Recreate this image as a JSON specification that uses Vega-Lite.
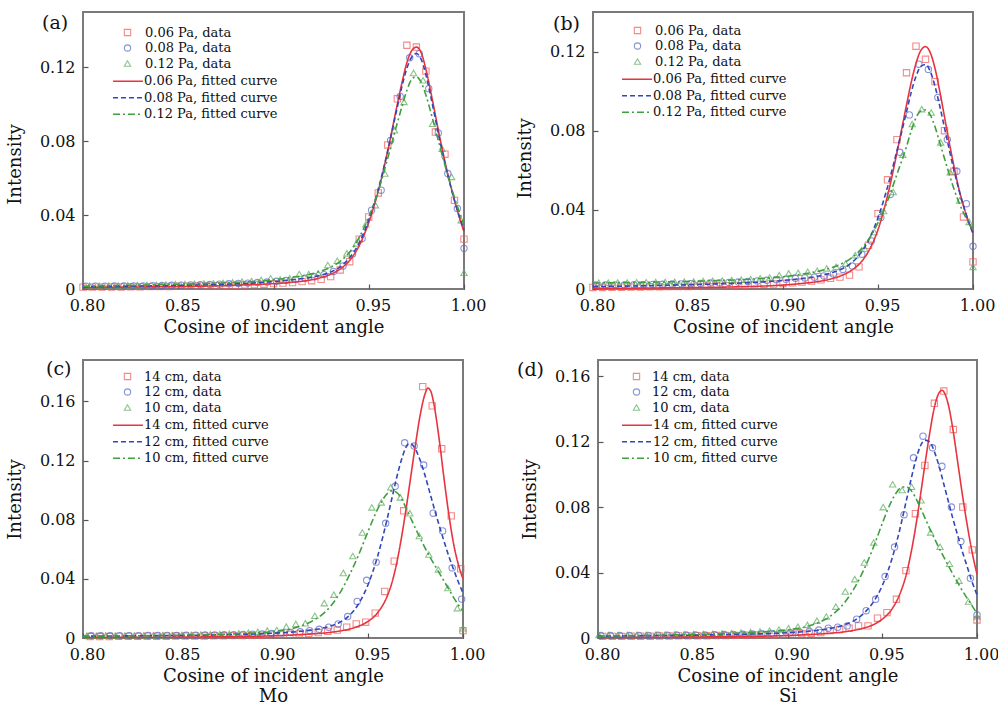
{
"$schema":"https://vega.github.io/schema/vega-lite/v6.json",
"background":"white",
"padding":{"left":5,"top":11,"right":5,"bottom":0},
"config":{
 "font":"DejaVu Serif",
 "view":{"stroke":"#7a7a7a","strokeWidth":2},
 "axis":{"grid":false,"domain":false,"tickSize":-5,"tickColor":"#555","tickWidth":1.2,"labelFont":"DejaVu Serif","labelFontSize":16,"labelColor":"#111","labelFlush":false,"labelOverlap":false,"titleFont":"DejaVu Serif","titleFontSize":18,"titleFontWeight":"normal","titleColor":"#111","titleLineHeight":20},
 "axisX":{"labelPadding":13,"titlePadding":5,"labelOffset":4},
 "axisY":{"labelPadding":13,"titlePadding":15},
 "legend":{"labelFont":"DejaVu Serif","labelFontSize":13,"labelColor":"#111","padding":0,"rowPadding":1.5,"labelLimit":400,"layout":{"top-left":{"direction":"vertical","margin":3}}},
 "title":{"font":"DejaVu Serif","fontSize":19,"fontWeight":"normal","anchor":"start","frame":"group","color":"#111"}
},
"datasets":{
"pts":[
{"p":"a","s":"r","x":0.800,"y":0.0010},{"p":"a","s":"r","x":0.805,"y":0.0010},{"p":"a","s":"r","x":0.810,"y":0.0010},{"p":"a","s":"r","x":0.815,"y":0.0011},{"p":"a","s":"r","x":0.820,"y":0.0011},{"p":"a","s":"r","x":0.825,"y":0.0012},{"p":"a","s":"r","x":0.830,"y":0.0012},{"p":"a","s":"r","x":0.835,"y":0.0013},{"p":"a","s":"r","x":0.840,"y":0.0013},{"p":"a","s":"r","x":0.845,"y":0.0014},{"p":"a","s":"r","x":0.850,"y":0.0015},{"p":"a","s":"r","x":0.855,"y":0.0015},{"p":"a","s":"r","x":0.860,"y":0.0016},{"p":"a","s":"r","x":0.865,"y":0.0017},{"p":"a","s":"r","x":0.870,"y":0.0018},{"p":"a","s":"r","x":0.875,"y":0.0019},{"p":"a","s":"r","x":0.880,"y":0.0020},{"p":"a","s":"r","x":0.885,"y":0.0022},{"p":"a","s":"r","x":0.890,"y":0.0024},{"p":"a","s":"r","x":0.895,"y":0.0026},{"p":"a","s":"r","x":0.900,"y":0.0029},{"p":"a","s":"r","x":0.905,"y":0.0032},{"p":"a","s":"r","x":0.910,"y":0.0035},{"p":"a","s":"r","x":0.915,"y":0.0040},{"p":"a","s":"r","x":0.920,"y":0.0045},{"p":"a","s":"r","x":0.925,"y":0.0052},{"p":"a","s":"r","x":0.930,"y":0.0067},{"p":"a","s":"r","x":0.935,"y":0.0103},{"p":"a","s":"r","x":0.940,"y":0.0148},{"p":"a","s":"r","x":0.945,"y":0.0270},{"p":"a","s":"r","x":0.950,"y":0.0390},{"p":"a","s":"r","x":0.955,"y":0.0520},{"p":"a","s":"r","x":0.960,"y":0.0780},{"p":"a","s":"r","x":0.965,"y":0.1030},{"p":"a","s":"r","x":0.970,"y":0.1320},{"p":"a","s":"r","x":0.975,"y":0.1310},{"p":"a","s":"r","x":0.980,"y":0.1180},{"p":"a","s":"r","x":0.985,"y":0.0850},{"p":"a","s":"r","x":0.990,"y":0.0730},{"p":"a","s":"r","x":0.995,"y":0.0480},{"p":"a","s":"r","x":1.000,"y":0.0270},
{"p":"a","s":"b","x":0.8015,"y":0.0015},{"p":"a","s":"b","x":0.8065,"y":0.0015},{"p":"a","s":"b","x":0.8115,"y":0.0015},{"p":"a","s":"b","x":0.8165,"y":0.0016},{"p":"a","s":"b","x":0.8215,"y":0.0016},{"p":"a","s":"b","x":0.8265,"y":0.0017},{"p":"a","s":"b","x":0.8315,"y":0.0017},{"p":"a","s":"b","x":0.8365,"y":0.0018},{"p":"a","s":"b","x":0.8415,"y":0.0019},{"p":"a","s":"b","x":0.8465,"y":0.0020},{"p":"a","s":"b","x":0.8515,"y":0.0021},{"p":"a","s":"b","x":0.8565,"y":0.0022},{"p":"a","s":"b","x":0.8615,"y":0.0023},{"p":"a","s":"b","x":0.8665,"y":0.0024},{"p":"a","s":"b","x":0.8715,"y":0.0026},{"p":"a","s":"b","x":0.8765,"y":0.0028},{"p":"a","s":"b","x":0.8815,"y":0.0030},{"p":"a","s":"b","x":0.8865,"y":0.0032},{"p":"a","s":"b","x":0.8915,"y":0.0035},{"p":"a","s":"b","x":0.8965,"y":0.0038},{"p":"a","s":"b","x":0.9015,"y":0.0042},{"p":"a","s":"b","x":0.9065,"y":0.0046},{"p":"a","s":"b","x":0.9115,"y":0.0052},{"p":"a","s":"b","x":0.9165,"y":0.0058},{"p":"a","s":"b","x":0.9215,"y":0.0066},{"p":"a","s":"b","x":0.9265,"y":0.0078},{"p":"a","s":"b","x":0.9315,"y":0.0095},{"p":"a","s":"b","x":0.9365,"y":0.0125},{"p":"a","s":"b","x":0.9415,"y":0.0190},{"p":"a","s":"b","x":0.9465,"y":0.0274},{"p":"a","s":"b","x":0.9515,"y":0.0427},{"p":"a","s":"b","x":0.9565,"y":0.0535},{"p":"a","s":"b","x":0.9615,"y":0.0805},{"p":"a","s":"b","x":0.9665,"y":0.1043},{"p":"a","s":"b","x":0.9715,"y":0.1252},{"p":"a","s":"b","x":0.9765,"y":0.1274},{"p":"a","s":"b","x":0.9815,"y":0.1085},{"p":"a","s":"b","x":0.9865,"y":0.0845},{"p":"a","s":"b","x":0.9915,"y":0.0625},{"p":"a","s":"b","x":0.9965,"y":0.0436},{"p":"a","s":"b","x":1.000,"y":0.0220},
{"p":"a","s":"g","x":0.8035,"y":0.0018},{"p":"a","s":"g","x":0.8085,"y":0.0018},{"p":"a","s":"g","x":0.8135,"y":0.0019},{"p":"a","s":"g","x":0.8185,"y":0.0019},{"p":"a","s":"g","x":0.8235,"y":0.0020},{"p":"a","s":"g","x":0.8285,"y":0.0021},{"p":"a","s":"g","x":0.8335,"y":0.0022},{"p":"a","s":"g","x":0.8385,"y":0.0023},{"p":"a","s":"g","x":0.8435,"y":0.0024},{"p":"a","s":"g","x":0.8485,"y":0.0026},{"p":"a","s":"g","x":0.8535,"y":0.0027},{"p":"a","s":"g","x":0.8585,"y":0.0028},{"p":"a","s":"g","x":0.8635,"y":0.0030},{"p":"a","s":"g","x":0.8685,"y":0.0031},{"p":"a","s":"g","x":0.8735,"y":0.0033},{"p":"a","s":"g","x":0.8785,"y":0.0036},{"p":"a","s":"g","x":0.8835,"y":0.0040},{"p":"a","s":"g","x":0.8885,"y":0.0043},{"p":"a","s":"g","x":0.8935,"y":0.0049},{"p":"a","s":"g","x":0.8985,"y":0.0058},{"p":"a","s":"g","x":0.9035,"y":0.0052},{"p":"a","s":"g","x":0.9085,"y":0.0058},{"p":"a","s":"g","x":0.9135,"y":0.0081},{"p":"a","s":"g","x":0.9185,"y":0.0081},{"p":"a","s":"g","x":0.9235,"y":0.0085},{"p":"a","s":"g","x":0.9285,"y":0.0130},{"p":"a","s":"g","x":0.9335,"y":0.0153},{"p":"a","s":"g","x":0.9385,"y":0.0193},{"p":"a","s":"g","x":0.9435,"y":0.0247},{"p":"a","s":"g","x":0.9485,"y":0.0351},{"p":"a","s":"g","x":0.9535,"y":0.0454},{"p":"a","s":"g","x":0.9585,"y":0.0625},{"p":"a","s":"g","x":0.9635,"y":0.0860},{"p":"a","s":"g","x":0.9685,"y":0.1013},{"p":"a","s":"g","x":0.9735,"y":0.1170},{"p":"a","s":"g","x":0.9785,"y":0.1130},{"p":"a","s":"g","x":0.9835,"y":0.0895},{"p":"a","s":"g","x":0.9885,"y":0.0760},{"p":"a","s":"g","x":0.9935,"y":0.0607},{"p":"a","s":"g","x":0.9985,"y":0.0373},{"p":"a","s":"g","x":1.000,"y":0.0088},
{"p":"b","s":"r","x":0.800,"y":0.0008},{"p":"b","s":"r","x":0.805,"y":0.0008},{"p":"b","s":"r","x":0.810,"y":0.0009},{"p":"b","s":"r","x":0.815,"y":0.0009},{"p":"b","s":"r","x":0.820,"y":0.0010},{"p":"b","s":"r","x":0.825,"y":0.0010},{"p":"b","s":"r","x":0.830,"y":0.0011},{"p":"b","s":"r","x":0.835,"y":0.0011},{"p":"b","s":"r","x":0.840,"y":0.0012},{"p":"b","s":"r","x":0.845,"y":0.0013},{"p":"b","s":"r","x":0.850,"y":0.0013},{"p":"b","s":"r","x":0.855,"y":0.0014},{"p":"b","s":"r","x":0.860,"y":0.0015},{"p":"b","s":"r","x":0.865,"y":0.0016},{"p":"b","s":"r","x":0.870,"y":0.0017},{"p":"b","s":"r","x":0.875,"y":0.0018},{"p":"b","s":"r","x":0.880,"y":0.0019},{"p":"b","s":"r","x":0.885,"y":0.0021},{"p":"b","s":"r","x":0.890,"y":0.0023},{"p":"b","s":"r","x":0.895,"y":0.0025},{"p":"b","s":"r","x":0.900,"y":0.0028},{"p":"b","s":"r","x":0.905,"y":0.0031},{"p":"b","s":"r","x":0.910,"y":0.0035},{"p":"b","s":"r","x":0.915,"y":0.0040},{"p":"b","s":"r","x":0.920,"y":0.0046},{"p":"b","s":"r","x":0.925,"y":0.0054},{"p":"b","s":"r","x":0.930,"y":0.0060},{"p":"b","s":"r","x":0.935,"y":0.0070},{"p":"b","s":"r","x":0.940,"y":0.0112},{"p":"b","s":"r","x":0.945,"y":0.0221},{"p":"b","s":"r","x":0.950,"y":0.0381},{"p":"b","s":"r","x":0.955,"y":0.0552},{"p":"b","s":"r","x":0.960,"y":0.0755},{"p":"b","s":"r","x":0.965,"y":0.1093},{"p":"b","s":"r","x":0.970,"y":0.1227},{"p":"b","s":"r","x":0.975,"y":0.1161},{"p":"b","s":"r","x":0.980,"y":0.1048},{"p":"b","s":"r","x":0.985,"y":0.0800},{"p":"b","s":"r","x":0.990,"y":0.0595},{"p":"b","s":"r","x":0.995,"y":0.0364},{"p":"b","s":"r","x":1.000,"y":0.0137},
{"p":"b","s":"b","x":0.8015,"y":0.0020},{"p":"b","s":"b","x":0.8065,"y":0.0020},{"p":"b","s":"b","x":0.8115,"y":0.0021},{"p":"b","s":"b","x":0.8165,"y":0.0021},{"p":"b","s":"b","x":0.8215,"y":0.0022},{"p":"b","s":"b","x":0.8265,"y":0.0022},{"p":"b","s":"b","x":0.8315,"y":0.0023},{"p":"b","s":"b","x":0.8365,"y":0.0024},{"p":"b","s":"b","x":0.8415,"y":0.0025},{"p":"b","s":"b","x":0.8465,"y":0.0026},{"p":"b","s":"b","x":0.8515,"y":0.0027},{"p":"b","s":"b","x":0.8565,"y":0.0028},{"p":"b","s":"b","x":0.8615,"y":0.0030},{"p":"b","s":"b","x":0.8665,"y":0.0031},{"p":"b","s":"b","x":0.8715,"y":0.0033},{"p":"b","s":"b","x":0.8765,"y":0.0035},{"p":"b","s":"b","x":0.8815,"y":0.0038},{"p":"b","s":"b","x":0.8865,"y":0.0041},{"p":"b","s":"b","x":0.8915,"y":0.0044},{"p":"b","s":"b","x":0.8965,"y":0.0047},{"p":"b","s":"b","x":0.9015,"y":0.0049},{"p":"b","s":"b","x":0.9065,"y":0.0054},{"p":"b","s":"b","x":0.9115,"y":0.0056},{"p":"b","s":"b","x":0.9165,"y":0.0060},{"p":"b","s":"b","x":0.9215,"y":0.0066},{"p":"b","s":"b","x":0.9265,"y":0.0076},{"p":"b","s":"b","x":0.9315,"y":0.0099},{"p":"b","s":"b","x":0.9365,"y":0.0116},{"p":"b","s":"b","x":0.9415,"y":0.0176},{"p":"b","s":"b","x":0.9465,"y":0.0243},{"p":"b","s":"b","x":0.9515,"y":0.0361},{"p":"b","s":"b","x":0.9565,"y":0.0478},{"p":"b","s":"b","x":0.9615,"y":0.0691},{"p":"b","s":"b","x":0.9665,"y":0.0880},{"p":"b","s":"b","x":0.9715,"y":0.1136},{"p":"b","s":"b","x":0.9765,"y":0.1110},{"p":"b","s":"b","x":0.9815,"y":0.0968},{"p":"b","s":"b","x":0.9865,"y":0.0755},{"p":"b","s":"b","x":0.9915,"y":0.0595},{"p":"b","s":"b","x":0.9965,"y":0.0431},{"p":"b","s":"b","x":1.000,"y":0.0216},
{"p":"b","s":"g","x":0.803,"y":0.0032},{"p":"b","s":"g","x":0.808,"y":0.0032},{"p":"b","s":"g","x":0.813,"y":0.0033},{"p":"b","s":"g","x":0.818,"y":0.0033},{"p":"b","s":"g","x":0.823,"y":0.0034},{"p":"b","s":"g","x":0.828,"y":0.0034},{"p":"b","s":"g","x":0.833,"y":0.0035},{"p":"b","s":"g","x":0.838,"y":0.0035},{"p":"b","s":"g","x":0.843,"y":0.0036},{"p":"b","s":"g","x":0.848,"y":0.0037},{"p":"b","s":"g","x":0.853,"y":0.0038},{"p":"b","s":"g","x":0.858,"y":0.0040},{"p":"b","s":"g","x":0.863,"y":0.0041},{"p":"b","s":"g","x":0.868,"y":0.0043},{"p":"b","s":"g","x":0.873,"y":0.0045},{"p":"b","s":"g","x":0.878,"y":0.0047},{"p":"b","s":"g","x":0.883,"y":0.0050},{"p":"b","s":"g","x":0.888,"y":0.0054},{"p":"b","s":"g","x":0.893,"y":0.0058},{"p":"b","s":"g","x":0.898,"y":0.0070},{"p":"b","s":"g","x":0.903,"y":0.0079},{"p":"b","s":"g","x":0.908,"y":0.0082},{"p":"b","s":"g","x":0.913,"y":0.0087},{"p":"b","s":"g","x":0.918,"y":0.0092},{"p":"b","s":"g","x":0.923,"y":0.0104},{"p":"b","s":"g","x":0.928,"y":0.0112},{"p":"b","s":"g","x":0.933,"y":0.0129},{"p":"b","s":"g","x":0.938,"y":0.0171},{"p":"b","s":"g","x":0.943,"y":0.0205},{"p":"b","s":"g","x":0.948,"y":0.0288},{"p":"b","s":"g","x":0.953,"y":0.0394},{"p":"b","s":"g","x":0.958,"y":0.0490},{"p":"b","s":"g","x":0.963,"y":0.0679},{"p":"b","s":"g","x":0.968,"y":0.0834},{"p":"b","s":"g","x":0.973,"y":0.0909},{"p":"b","s":"g","x":0.978,"y":0.0892},{"p":"b","s":"g","x":0.983,"y":0.0741},{"p":"b","s":"g","x":0.988,"y":0.0590},{"p":"b","s":"g","x":0.993,"y":0.0448},{"p":"b","s":"g","x":0.998,"y":0.0339},{"p":"b","s":"g","x":1.000,"y":0.0112},
{"p":"c","s":"r","x":0.8038,"y":0.0010},{"p":"c","s":"r","x":0.8088,"y":0.0010},{"p":"c","s":"r","x":0.8138,"y":0.0010},{"p":"c","s":"r","x":0.8188,"y":0.0011},{"p":"c","s":"r","x":0.8238,"y":0.0011},{"p":"c","s":"r","x":0.8288,"y":0.0011},{"p":"c","s":"r","x":0.8338,"y":0.0012},{"p":"c","s":"r","x":0.8388,"y":0.0012},{"p":"c","s":"r","x":0.8438,"y":0.0012},{"p":"c","s":"r","x":0.8488,"y":0.0013},{"p":"c","s":"r","x":0.8538,"y":0.0013},{"p":"c","s":"r","x":0.8588,"y":0.0014},{"p":"c","s":"r","x":0.8638,"y":0.0014},{"p":"c","s":"r","x":0.8688,"y":0.0015},{"p":"c","s":"r","x":0.8738,"y":0.0015},{"p":"c","s":"r","x":0.8788,"y":0.0016},{"p":"c","s":"r","x":0.8838,"y":0.0017},{"p":"c","s":"r","x":0.8888,"y":0.0018},{"p":"c","s":"r","x":0.8938,"y":0.0019},{"p":"c","s":"r","x":0.8988,"y":0.0021},{"p":"c","s":"r","x":0.9038,"y":0.0023},{"p":"c","s":"r","x":0.9088,"y":0.0025},{"p":"c","s":"r","x":0.9138,"y":0.0028},{"p":"c","s":"r","x":0.9188,"y":0.0032},{"p":"c","s":"r","x":0.9238,"y":0.0037},{"p":"c","s":"r","x":0.9288,"y":0.0045},{"p":"c","s":"r","x":0.9338,"y":0.0054},{"p":"c","s":"r","x":0.9388,"y":0.0073},{"p":"c","s":"r","x":0.9438,"y":0.0095},{"p":"c","s":"r","x":0.9488,"y":0.0107},{"p":"c","s":"r","x":0.9538,"y":0.0168},{"p":"c","s":"r","x":0.9588,"y":0.0315},{"p":"c","s":"r","x":0.9638,"y":0.0520},{"p":"c","s":"r","x":0.9688,"y":0.0860},{"p":"c","s":"r","x":0.9788,"y":0.1700},{"p":"c","s":"r","x":0.9838,"y":0.1570},{"p":"c","s":"r","x":0.9888,"y":0.1280},{"p":"c","s":"r","x":0.9938,"y":0.0826},{"p":"c","s":"r","x":0.9988,"y":0.0468},{"p":"c","s":"r","x":1.000,"y":0.0050},
{"p":"c","s":"b","x":0.8043,"y":0.0015},{"p":"c","s":"b","x":0.8093,"y":0.0015},{"p":"c","s":"b","x":0.8143,"y":0.0015},{"p":"c","s":"b","x":0.8193,"y":0.0016},{"p":"c","s":"b","x":0.8243,"y":0.0016},{"p":"c","s":"b","x":0.8293,"y":0.0016},{"p":"c","s":"b","x":0.8343,"y":0.0017},{"p":"c","s":"b","x":0.8393,"y":0.0017},{"p":"c","s":"b","x":0.8443,"y":0.0018},{"p":"c","s":"b","x":0.8493,"y":0.0018},{"p":"c","s":"b","x":0.8543,"y":0.0019},{"p":"c","s":"b","x":0.8593,"y":0.0019},{"p":"c","s":"b","x":0.8643,"y":0.0020},{"p":"c","s":"b","x":0.8693,"y":0.0021},{"p":"c","s":"b","x":0.8743,"y":0.0022},{"p":"c","s":"b","x":0.8793,"y":0.0023},{"p":"c","s":"b","x":0.8843,"y":0.0024},{"p":"c","s":"b","x":0.8893,"y":0.0026},{"p":"c","s":"b","x":0.8943,"y":0.0028},{"p":"c","s":"b","x":0.8993,"y":0.0030},{"p":"c","s":"b","x":0.9043,"y":0.0033},{"p":"c","s":"b","x":0.9093,"y":0.0037},{"p":"c","s":"b","x":0.9143,"y":0.0042},{"p":"c","s":"b","x":0.9193,"y":0.0050},{"p":"c","s":"b","x":0.9243,"y":0.0059},{"p":"c","s":"b","x":0.9293,"y":0.0073},{"p":"c","s":"b","x":0.9343,"y":0.0095},{"p":"c","s":"b","x":0.9393,"y":0.0145},{"p":"c","s":"b","x":0.9443,"y":0.0247},{"p":"c","s":"b","x":0.9493,"y":0.0390},{"p":"c","s":"b","x":0.9543,"y":0.0513},{"p":"c","s":"b","x":0.9593,"y":0.0776},{"p":"c","s":"b","x":0.9643,"y":0.1026},{"p":"c","s":"b","x":0.9693,"y":0.1320},{"p":"c","s":"b","x":0.9743,"y":0.1298},{"p":"c","s":"b","x":0.9793,"y":0.1170},{"p":"c","s":"b","x":0.9843,"y":0.0844},{"p":"c","s":"b","x":0.9893,"y":0.0724},{"p":"c","s":"b","x":0.9943,"y":0.0474},{"p":"c","s":"b","x":0.9993,"y":0.0263},
{"p":"c","s":"g","x":0.802,"y":0.0015},{"p":"c","s":"g","x":0.807,"y":0.0015},{"p":"c","s":"g","x":0.812,"y":0.0016},{"p":"c","s":"g","x":0.817,"y":0.0016},{"p":"c","s":"g","x":0.822,"y":0.0017},{"p":"c","s":"g","x":0.827,"y":0.0017},{"p":"c","s":"g","x":0.832,"y":0.0018},{"p":"c","s":"g","x":0.837,"y":0.0018},{"p":"c","s":"g","x":0.842,"y":0.0019},{"p":"c","s":"g","x":0.847,"y":0.0020},{"p":"c","s":"g","x":0.852,"y":0.0021},{"p":"c","s":"g","x":0.857,"y":0.0022},{"p":"c","s":"g","x":0.862,"y":0.0023},{"p":"c","s":"g","x":0.867,"y":0.0025},{"p":"c","s":"g","x":0.872,"y":0.0027},{"p":"c","s":"g","x":0.877,"y":0.0029},{"p":"c","s":"g","x":0.882,"y":0.0032},{"p":"c","s":"g","x":0.887,"y":0.0036},{"p":"c","s":"g","x":0.892,"y":0.0042},{"p":"c","s":"g","x":0.897,"y":0.0050},{"p":"c","s":"g","x":0.902,"y":0.0054},{"p":"c","s":"g","x":0.907,"y":0.0077},{"p":"c","s":"g","x":0.912,"y":0.0095},{"p":"c","s":"g","x":0.917,"y":0.0100},{"p":"c","s":"g","x":0.922,"y":0.0150},{"p":"c","s":"g","x":0.927,"y":0.0236},{"p":"c","s":"g","x":0.932,"y":0.0293},{"p":"c","s":"g","x":0.937,"y":0.0440},{"p":"c","s":"g","x":0.942,"y":0.0554},{"p":"c","s":"g","x":0.947,"y":0.0713},{"p":"c","s":"g","x":0.952,"y":0.0883},{"p":"c","s":"g","x":0.957,"y":0.0917},{"p":"c","s":"g","x":0.962,"y":0.1019},{"p":"c","s":"g","x":0.967,"y":0.0951},{"p":"c","s":"g","x":0.972,"y":0.0844},{"p":"c","s":"g","x":0.977,"y":0.0690},{"p":"c","s":"g","x":0.982,"y":0.0565},{"p":"c","s":"g","x":0.987,"y":0.0463},{"p":"c","s":"g","x":0.992,"y":0.0338},{"p":"c","s":"g","x":0.997,"y":0.0202},{"p":"c","s":"g","x":1.000,"y":0.0066},
{"p":"d","s":"r","x":0.8025,"y":0.0010},{"p":"d","s":"r","x":0.8075,"y":0.0010},{"p":"d","s":"r","x":0.8125,"y":0.0010},{"p":"d","s":"r","x":0.8175,"y":0.0011},{"p":"d","s":"r","x":0.8225,"y":0.0011},{"p":"d","s":"r","x":0.8275,"y":0.0011},{"p":"d","s":"r","x":0.8325,"y":0.0012},{"p":"d","s":"r","x":0.8375,"y":0.0012},{"p":"d","s":"r","x":0.8425,"y":0.0013},{"p":"d","s":"r","x":0.8475,"y":0.0013},{"p":"d","s":"r","x":0.8525,"y":0.0014},{"p":"d","s":"r","x":0.8575,"y":0.0014},{"p":"d","s":"r","x":0.8625,"y":0.0015},{"p":"d","s":"r","x":0.8675,"y":0.0015},{"p":"d","s":"r","x":0.8725,"y":0.0016},{"p":"d","s":"r","x":0.8775,"y":0.0017},{"p":"d","s":"r","x":0.8825,"y":0.0018},{"p":"d","s":"r","x":0.8875,"y":0.0019},{"p":"d","s":"r","x":0.8925,"y":0.0020},{"p":"d","s":"r","x":0.8975,"y":0.0022},{"p":"d","s":"r","x":0.9025,"y":0.0024},{"p":"d","s":"r","x":0.9075,"y":0.0026},{"p":"d","s":"r","x":0.9125,"y":0.0029},{"p":"d","s":"r","x":0.9175,"y":0.0033},{"p":"d","s":"r","x":0.9225,"y":0.0045},{"p":"d","s":"r","x":0.9275,"y":0.0052},{"p":"d","s":"r","x":0.9325,"y":0.0060},{"p":"d","s":"r","x":0.9375,"y":0.0074},{"p":"d","s":"r","x":0.9425,"y":0.0074},{"p":"d","s":"r","x":0.9475,"y":0.0121},{"p":"d","s":"r","x":0.9525,"y":0.0155},{"p":"d","s":"r","x":0.9575,"y":0.0237},{"p":"d","s":"r","x":0.9625,"y":0.0412},{"p":"d","s":"r","x":0.9675,"y":0.0760},{"p":"d","s":"r","x":0.9725,"y":0.1055},{"p":"d","s":"r","x":0.9775,"y":0.1435},{"p":"d","s":"r","x":0.9825,"y":0.1510},{"p":"d","s":"r","x":0.9875,"y":0.1275},{"p":"d","s":"r","x":0.9925,"y":0.0801},{"p":"d","s":"r","x":0.9975,"y":0.0539},{"p":"d","s":"r","x":1.000,"y":0.0110},
{"p":"d","s":"b","x":0.8015,"y":0.0015},{"p":"d","s":"b","x":0.8065,"y":0.0015},{"p":"d","s":"b","x":0.8115,"y":0.0015},{"p":"d","s":"b","x":0.8165,"y":0.0016},{"p":"d","s":"b","x":0.8215,"y":0.0016},{"p":"d","s":"b","x":0.8265,"y":0.0016},{"p":"d","s":"b","x":0.8315,"y":0.0017},{"p":"d","s":"b","x":0.8365,"y":0.0017},{"p":"d","s":"b","x":0.8415,"y":0.0018},{"p":"d","s":"b","x":0.8465,"y":0.0018},{"p":"d","s":"b","x":0.8515,"y":0.0019},{"p":"d","s":"b","x":0.8565,"y":0.0019},{"p":"d","s":"b","x":0.8615,"y":0.0020},{"p":"d","s":"b","x":0.8665,"y":0.0021},{"p":"d","s":"b","x":0.8715,"y":0.0022},{"p":"d","s":"b","x":0.8765,"y":0.0023},{"p":"d","s":"b","x":0.8815,"y":0.0025},{"p":"d","s":"b","x":0.8865,"y":0.0026},{"p":"d","s":"b","x":0.8915,"y":0.0028},{"p":"d","s":"b","x":0.8965,"y":0.0030},{"p":"d","s":"b","x":0.9015,"y":0.0033},{"p":"d","s":"b","x":0.9065,"y":0.0036},{"p":"d","s":"b","x":0.9115,"y":0.0040},{"p":"d","s":"b","x":0.9165,"y":0.0049},{"p":"d","s":"b","x":0.9215,"y":0.0060},{"p":"d","s":"b","x":0.9265,"y":0.0066},{"p":"d","s":"b","x":0.9315,"y":0.0074},{"p":"d","s":"b","x":0.9365,"y":0.0115},{"p":"d","s":"b","x":0.9415,"y":0.0167},{"p":"d","s":"b","x":0.9465,"y":0.0237},{"p":"d","s":"b","x":0.9515,"y":0.0376},{"p":"d","s":"b","x":0.9565,"y":0.0556},{"p":"d","s":"b","x":0.9615,"y":0.0754},{"p":"d","s":"b","x":0.9665,"y":0.1102},{"p":"d","s":"b","x":0.9715,"y":0.1234},{"p":"d","s":"b","x":0.9765,"y":0.1163},{"p":"d","s":"b","x":0.9815,"y":0.1050},{"p":"d","s":"b","x":0.9865,"y":0.0801},{"p":"d","s":"b","x":0.9915,"y":0.0590},{"p":"d","s":"b","x":0.9965,"y":0.0366},{"p":"d","s":"b","x":1.000,"y":0.0141},
{"p":"d","s":"g","x":0.8005,"y":0.0018},{"p":"d","s":"g","x":0.8055,"y":0.0018},{"p":"d","s":"g","x":0.8105,"y":0.0018},{"p":"d","s":"g","x":0.8155,"y":0.0019},{"p":"d","s":"g","x":0.8205,"y":0.0019},{"p":"d","s":"g","x":0.8255,"y":0.0020},{"p":"d","s":"g","x":0.8305,"y":0.0020},{"p":"d","s":"g","x":0.8355,"y":0.0021},{"p":"d","s":"g","x":0.8405,"y":0.0022},{"p":"d","s":"g","x":0.8455,"y":0.0023},{"p":"d","s":"g","x":0.8505,"y":0.0024},{"p":"d","s":"g","x":0.8555,"y":0.0025},{"p":"d","s":"g","x":0.8605,"y":0.0026},{"p":"d","s":"g","x":0.8655,"y":0.0028},{"p":"d","s":"g","x":0.8705,"y":0.0030},{"p":"d","s":"g","x":0.8755,"y":0.0033},{"p":"d","s":"g","x":0.8805,"y":0.0036},{"p":"d","s":"g","x":0.8855,"y":0.0040},{"p":"d","s":"g","x":0.8905,"y":0.0045},{"p":"d","s":"g","x":0.8955,"y":0.0052},{"p":"d","s":"g","x":0.9005,"y":0.0060},{"p":"d","s":"g","x":0.9055,"y":0.0069},{"p":"d","s":"g","x":0.9105,"y":0.0080},{"p":"d","s":"g","x":0.9155,"y":0.0106},{"p":"d","s":"g","x":0.9205,"y":0.0131},{"p":"d","s":"g","x":0.9255,"y":0.0192},{"p":"d","s":"g","x":0.9305,"y":0.0284},{"p":"d","s":"g","x":0.9355,"y":0.0360},{"p":"d","s":"g","x":0.9405,"y":0.0462},{"p":"d","s":"g","x":0.9455,"y":0.0584},{"p":"d","s":"g","x":0.9505,"y":0.0800},{"p":"d","s":"g","x":0.9555,"y":0.0940},{"p":"d","s":"g","x":0.9605,"y":0.0905},{"p":"d","s":"g","x":0.9655,"y":0.0925},{"p":"d","s":"g","x":0.9705,"y":0.0842},{"p":"d","s":"g","x":0.9755,"y":0.0646},{"p":"d","s":"g","x":0.9805,"y":0.0558},{"p":"d","s":"g","x":0.9855,"y":0.0454},{"p":"d","s":"g","x":0.9905,"y":0.0351},{"p":"d","s":"g","x":0.9955,"y":0.0223},{"p":"d","s":"g","x":1.000,"y":0.0131}
],
"fit":[
{"p":"a","s":"r","x":0.80,"y":0.0008},{"p":"a","s":"r","x":0.82,"y":0.0010},{"p":"a","s":"r","x":0.84,"y":0.0012},{"p":"a","s":"r","x":0.86,"y":0.0015},{"p":"a","s":"r","x":0.88,"y":0.0020},{"p":"a","s":"r","x":0.89,"y":0.0024},{"p":"a","s":"r","x":0.90,"y":0.0029},{"p":"a","s":"r","x":0.91,"y":0.0037},{"p":"a","s":"r","x":0.92,"y":0.0050},{"p":"a","s":"r","x":0.925,"y":0.0062},{"p":"a","s":"r","x":0.93,"y":0.0080},{"p":"a","s":"r","x":0.935,"y":0.0108},{"p":"a","s":"r","x":0.94,"y":0.0155},{"p":"a","s":"r","x":0.945,"y":0.0235},{"p":"a","s":"r","x":0.95,"y":0.0360},{"p":"a","s":"r","x":0.955,"y":0.0530},{"p":"a","s":"r","x":0.96,"y":0.0750},{"p":"a","s":"r","x":0.965,"y":0.1000},{"p":"a","s":"r","x":0.9675,"y":0.1120},{"p":"a","s":"r","x":0.97,"y":0.1225},{"p":"a","s":"r","x":0.9725,"y":0.1290},{"p":"a","s":"r","x":0.975,"y":0.1310},{"p":"a","s":"r","x":0.9775,"y":0.1280},{"p":"a","s":"r","x":0.98,"y":0.1190},{"p":"a","s":"r","x":0.9825,"y":0.1070},{"p":"a","s":"r","x":0.985,"y":0.0940},{"p":"a","s":"r","x":0.9875,"y":0.0810},{"p":"a","s":"r","x":0.99,"y":0.0690},{"p":"a","s":"r","x":0.9925,"y":0.0580},{"p":"a","s":"r","x":0.995,"y":0.0480},{"p":"a","s":"r","x":0.9975,"y":0.0390},{"p":"a","s":"r","x":1.0,"y":0.0310},
{"p":"a","s":"b","x":0.80,"y":0.0012},{"p":"a","s":"b","x":0.82,"y":0.0015},{"p":"a","s":"b","x":0.84,"y":0.0018},{"p":"a","s":"b","x":0.86,"y":0.0022},{"p":"a","s":"b","x":0.88,"y":0.0028},{"p":"a","s":"b","x":0.89,"y":0.0033},{"p":"a","s":"b","x":0.90,"y":0.0040},{"p":"a","s":"b","x":0.91,"y":0.0050},{"p":"a","s":"b","x":0.92,"y":0.0064},{"p":"a","s":"b","x":0.925,"y":0.0075},{"p":"a","s":"b","x":0.93,"y":0.0092},{"p":"a","s":"b","x":0.935,"y":0.0120},{"p":"a","s":"b","x":0.94,"y":0.0170},{"p":"a","s":"b","x":0.945,"y":0.0250},{"p":"a","s":"b","x":0.95,"y":0.0375},{"p":"a","s":"b","x":0.955,"y":0.0540},{"p":"a","s":"b","x":0.96,"y":0.0750},{"p":"a","s":"b","x":0.965,"y":0.0985},{"p":"a","s":"b","x":0.9675,"y":0.1100},{"p":"a","s":"b","x":0.97,"y":0.1195},{"p":"a","s":"b","x":0.9725,"y":0.1255},{"p":"a","s":"b","x":0.975,"y":0.1275},{"p":"a","s":"b","x":0.9775,"y":0.1245},{"p":"a","s":"b","x":0.98,"y":0.1160},{"p":"a","s":"b","x":0.9825,"y":0.1045},{"p":"a","s":"b","x":0.985,"y":0.0920},{"p":"a","s":"b","x":0.9875,"y":0.0795},{"p":"a","s":"b","x":0.99,"y":0.0680},{"p":"a","s":"b","x":0.9925,"y":0.0575},{"p":"a","s":"b","x":0.995,"y":0.0480},{"p":"a","s":"b","x":0.9975,"y":0.0395},{"p":"a","s":"b","x":1.0,"y":0.0320},
{"p":"a","s":"g","x":0.80,"y":0.0015},{"p":"a","s":"g","x":0.82,"y":0.0019},{"p":"a","s":"g","x":0.84,"y":0.0023},{"p":"a","s":"g","x":0.86,"y":0.0028},{"p":"a","s":"g","x":0.88,"y":0.0035},{"p":"a","s":"g","x":0.89,"y":0.0041},{"p":"a","s":"g","x":0.90,"y":0.0050},{"p":"a","s":"g","x":0.91,"y":0.0063},{"p":"a","s":"g","x":0.92,"y":0.0082},{"p":"a","s":"g","x":0.925,"y":0.0097},{"p":"a","s":"g","x":0.93,"y":0.0118},{"p":"a","s":"g","x":0.935,"y":0.0150},{"p":"a","s":"g","x":0.94,"y":0.0200},{"p":"a","s":"g","x":0.945,"y":0.0280},{"p":"a","s":"g","x":0.95,"y":0.0390},{"p":"a","s":"g","x":0.955,"y":0.0530},{"p":"a","s":"g","x":0.96,"y":0.0710},{"p":"a","s":"g","x":0.965,"y":0.0900},{"p":"a","s":"g","x":0.9675,"y":0.0990},{"p":"a","s":"g","x":0.97,"y":0.1075},{"p":"a","s":"g","x":0.9725,"y":0.1135},{"p":"a","s":"g","x":0.975,"y":0.1150},{"p":"a","s":"g","x":0.9775,"y":0.1120},{"p":"a","s":"g","x":0.98,"y":0.1050},{"p":"a","s":"g","x":0.9825,"y":0.0960},{"p":"a","s":"g","x":0.985,"y":0.0865},{"p":"a","s":"g","x":0.9875,"y":0.0765},{"p":"a","s":"g","x":0.99,"y":0.0670},{"p":"a","s":"g","x":0.9925,"y":0.0580},{"p":"a","s":"g","x":0.995,"y":0.0495},{"p":"a","s":"g","x":0.9975,"y":0.0420},{"p":"a","s":"g","x":1.0,"y":0.0350},
{"p":"b","s":"r","x":0.80,"y":0.0003},{"p":"b","s":"r","x":0.82,"y":0.0004},{"p":"b","s":"r","x":0.84,"y":0.0006},{"p":"b","s":"r","x":0.86,"y":0.0008},{"p":"b","s":"r","x":0.88,"y":0.0012},{"p":"b","s":"r","x":0.89,"y":0.0015},{"p":"b","s":"r","x":0.90,"y":0.0020},{"p":"b","s":"r","x":0.91,"y":0.0028},{"p":"b","s":"r","x":0.92,"y":0.0040},{"p":"b","s":"r","x":0.925,"y":0.0050},{"p":"b","s":"r","x":0.93,"y":0.0065},{"p":"b","s":"r","x":0.935,"y":0.0088},{"p":"b","s":"r","x":0.94,"y":0.0125},{"p":"b","s":"r","x":0.945,"y":0.0190},{"p":"b","s":"r","x":0.95,"y":0.0300},{"p":"b","s":"r","x":0.955,"y":0.0470},{"p":"b","s":"r","x":0.96,"y":0.0690},{"p":"b","s":"r","x":0.965,"y":0.0930},{"p":"b","s":"r","x":0.9675,"y":0.1045},{"p":"b","s":"r","x":0.97,"y":0.1140},{"p":"b","s":"r","x":0.9725,"y":0.1205},{"p":"b","s":"r","x":0.975,"y":0.1225},{"p":"b","s":"r","x":0.9775,"y":0.1195},{"p":"b","s":"r","x":0.98,"y":0.1115},{"p":"b","s":"r","x":0.9825,"y":0.1000},{"p":"b","s":"r","x":0.985,"y":0.0870},{"p":"b","s":"r","x":0.9875,"y":0.0740},{"p":"b","s":"r","x":0.99,"y":0.0620},{"p":"b","s":"r","x":0.9925,"y":0.0510},{"p":"b","s":"r","x":0.995,"y":0.0420},{"p":"b","s":"r","x":0.9975,"y":0.0345},{"p":"b","s":"r","x":1.0,"y":0.0285},
{"p":"b","s":"b","x":0.80,"y":0.0012},{"p":"b","s":"b","x":0.82,"y":0.0015},{"p":"b","s":"b","x":0.84,"y":0.0019},{"p":"b","s":"b","x":0.86,"y":0.0024},{"p":"b","s":"b","x":0.88,"y":0.0031},{"p":"b","s":"b","x":0.89,"y":0.0036},{"p":"b","s":"b","x":0.90,"y":0.0043},{"p":"b","s":"b","x":0.91,"y":0.0053},{"p":"b","s":"b","x":0.92,"y":0.0068},{"p":"b","s":"b","x":0.925,"y":0.0080},{"p":"b","s":"b","x":0.93,"y":0.0097},{"p":"b","s":"b","x":0.935,"y":0.0125},{"p":"b","s":"b","x":0.94,"y":0.0170},{"p":"b","s":"b","x":0.945,"y":0.0245},{"p":"b","s":"b","x":0.95,"y":0.0360},{"p":"b","s":"b","x":0.955,"y":0.0515},{"p":"b","s":"b","x":0.96,"y":0.0700},{"p":"b","s":"b","x":0.965,"y":0.0895},{"p":"b","s":"b","x":0.9675,"y":0.0995},{"p":"b","s":"b","x":0.97,"y":0.1075},{"p":"b","s":"b","x":0.9725,"y":0.1125},{"p":"b","s":"b","x":0.975,"y":0.1135},{"p":"b","s":"b","x":0.9775,"y":0.1100},{"p":"b","s":"b","x":0.98,"y":0.1025},{"p":"b","s":"b","x":0.9825,"y":0.0925},{"p":"b","s":"b","x":0.985,"y":0.0815},{"p":"b","s":"b","x":0.9875,"y":0.0705},{"p":"b","s":"b","x":0.99,"y":0.0600},{"p":"b","s":"b","x":0.9925,"y":0.0505},{"p":"b","s":"b","x":0.995,"y":0.0420},{"p":"b","s":"b","x":0.9975,"y":0.0345},{"p":"b","s":"b","x":1.0,"y":0.0280},
{"p":"b","s":"g","x":0.80,"y":0.0030},{"p":"b","s":"g","x":0.82,"y":0.0033},{"p":"b","s":"g","x":0.84,"y":0.0036},{"p":"b","s":"g","x":0.86,"y":0.0041},{"p":"b","s":"g","x":0.88,"y":0.0048},{"p":"b","s":"g","x":0.89,"y":0.0054},{"p":"b","s":"g","x":0.90,"y":0.0062},{"p":"b","s":"g","x":0.91,"y":0.0075},{"p":"b","s":"g","x":0.92,"y":0.0093},{"p":"b","s":"g","x":0.925,"y":0.0106},{"p":"b","s":"g","x":0.93,"y":0.0124},{"p":"b","s":"g","x":0.935,"y":0.0150},{"p":"b","s":"g","x":0.94,"y":0.0190},{"p":"b","s":"g","x":0.945,"y":0.0250},{"p":"b","s":"g","x":0.95,"y":0.0335},{"p":"b","s":"g","x":0.955,"y":0.0445},{"p":"b","s":"g","x":0.96,"y":0.0580},{"p":"b","s":"g","x":0.965,"y":0.0720},{"p":"b","s":"g","x":0.9675,"y":0.0800},{"p":"b","s":"g","x":0.97,"y":0.0865},{"p":"b","s":"g","x":0.9725,"y":0.0900},{"p":"b","s":"g","x":0.975,"y":0.0905},{"p":"b","s":"g","x":0.9775,"y":0.0880},{"p":"b","s":"g","x":0.98,"y":0.0820},{"p":"b","s":"g","x":0.9825,"y":0.0740},{"p":"b","s":"g","x":0.985,"y":0.0660},{"p":"b","s":"g","x":0.9875,"y":0.0580},{"p":"b","s":"g","x":0.99,"y":0.0505},{"p":"b","s":"g","x":0.9925,"y":0.0440},{"p":"b","s":"g","x":0.995,"y":0.0385},{"p":"b","s":"g","x":0.9975,"y":0.0340},{"p":"b","s":"g","x":1.0,"y":0.0300},
{"p":"c","s":"r","x":0.80,"y":0.0003},{"p":"c","s":"r","x":0.82,"y":0.0004},{"p":"c","s":"r","x":0.84,"y":0.0005},{"p":"c","s":"r","x":0.86,"y":0.0007},{"p":"c","s":"r","x":0.88,"y":0.0010},{"p":"c","s":"r","x":0.89,"y":0.0012},{"p":"c","s":"r","x":0.90,"y":0.0015},{"p":"c","s":"r","x":0.91,"y":0.0020},{"p":"c","s":"r","x":0.92,"y":0.0027},{"p":"c","s":"r","x":0.93,"y":0.0038},{"p":"c","s":"r","x":0.935,"y":0.0047},{"p":"c","s":"r","x":0.94,"y":0.0060},{"p":"c","s":"r","x":0.945,"y":0.0080},{"p":"c","s":"r","x":0.95,"y":0.0112},{"p":"c","s":"r","x":0.955,"y":0.0170},{"p":"c","s":"r","x":0.96,"y":0.0280},{"p":"c","s":"r","x":0.9625,"y":0.0370},{"p":"c","s":"r","x":0.965,"y":0.0500},{"p":"c","s":"r","x":0.9675,"y":0.0670},{"p":"c","s":"r","x":0.97,"y":0.0870},{"p":"c","s":"r","x":0.9725,"y":0.1090},{"p":"c","s":"r","x":0.975,"y":0.1310},{"p":"c","s":"r","x":0.9775,"y":0.1510},{"p":"c","s":"r","x":0.98,"y":0.1650},{"p":"c","s":"r","x":0.9815,"y":0.1690},{"p":"c","s":"r","x":0.983,"y":0.1670},{"p":"c","s":"r","x":0.985,"y":0.1560},{"p":"c","s":"r","x":0.9875,"y":0.1340},{"p":"c","s":"r","x":0.99,"y":0.1080},{"p":"c","s":"r","x":0.9925,"y":0.0840},{"p":"c","s":"r","x":0.995,"y":0.0640},{"p":"c","s":"r","x":0.9975,"y":0.0500},{"p":"c","s":"r","x":1.0,"y":0.0400},
{"p":"c","s":"b","x":0.80,"y":0.0012},{"p":"c","s":"b","x":0.82,"y":0.0014},{"p":"c","s":"b","x":0.84,"y":0.0016},{"p":"c","s":"b","x":0.86,"y":0.0019},{"p":"c","s":"b","x":0.88,"y":0.0024},{"p":"c","s":"b","x":0.89,"y":0.0027},{"p":"c","s":"b","x":0.90,"y":0.0032},{"p":"c","s":"b","x":0.91,"y":0.0040},{"p":"c","s":"b","x":0.92,"y":0.0053},{"p":"c","s":"b","x":0.925,"y":0.0064},{"p":"c","s":"b","x":0.93,"y":0.0080},{"p":"c","s":"b","x":0.935,"y":0.0105},{"p":"c","s":"b","x":0.94,"y":0.0150},{"p":"c","s":"b","x":0.945,"y":0.0230},{"p":"c","s":"b","x":0.95,"y":0.0360},{"p":"c","s":"b","x":0.955,"y":0.0550},{"p":"c","s":"b","x":0.96,"y":0.0800},{"p":"c","s":"b","x":0.9625,"y":0.0940},{"p":"c","s":"b","x":0.965,"y":0.1080},{"p":"c","s":"b","x":0.9675,"y":0.1200},{"p":"c","s":"b","x":0.97,"y":0.1290},{"p":"c","s":"b","x":0.9715,"y":0.1315},{"p":"c","s":"b","x":0.973,"y":0.1310},{"p":"c","s":"b","x":0.975,"y":0.1275},{"p":"c","s":"b","x":0.9775,"y":0.1200},{"p":"c","s":"b","x":0.98,"y":0.1100},{"p":"c","s":"b","x":0.9825,"y":0.0985},{"p":"c","s":"b","x":0.985,"y":0.0870},{"p":"c","s":"b","x":0.9875,"y":0.0760},{"p":"c","s":"b","x":0.99,"y":0.0655},{"p":"c","s":"b","x":0.9925,"y":0.0555},{"p":"c","s":"b","x":0.995,"y":0.0465},{"p":"c","s":"b","x":0.9975,"y":0.0380},{"p":"c","s":"b","x":1.0,"y":0.0305},
{"p":"c","s":"g","x":0.80,"y":0.0012},{"p":"c","s":"g","x":0.82,"y":0.0014},{"p":"c","s":"g","x":0.84,"y":0.0017},{"p":"c","s":"g","x":0.86,"y":0.0021},{"p":"c","s":"g","x":0.88,"y":0.0028},{"p":"c","s":"g","x":0.89,"y":0.0034},{"p":"c","s":"g","x":0.90,"y":0.0043},{"p":"c","s":"g","x":0.905,"y":0.0052},{"p":"c","s":"g","x":0.91,"y":0.0064},{"p":"c","s":"g","x":0.915,"y":0.0082},{"p":"c","s":"g","x":0.92,"y":0.0110},{"p":"c","s":"g","x":0.925,"y":0.0150},{"p":"c","s":"g","x":0.93,"y":0.0210},{"p":"c","s":"g","x":0.935,"y":0.0300},{"p":"c","s":"g","x":0.94,"y":0.0420},{"p":"c","s":"g","x":0.945,"y":0.0560},{"p":"c","s":"g","x":0.95,"y":0.0720},{"p":"c","s":"g","x":0.955,"y":0.0870},{"p":"c","s":"g","x":0.9575,"y":0.0930},{"p":"c","s":"g","x":0.96,"y":0.0975},{"p":"c","s":"g","x":0.9625,"y":0.0995},{"p":"c","s":"g","x":0.965,"y":0.0985},{"p":"c","s":"g","x":0.9675,"y":0.0945},{"p":"c","s":"g","x":0.97,"y":0.0880},{"p":"c","s":"g","x":0.9725,"y":0.0810},{"p":"c","s":"g","x":0.975,"y":0.0740},{"p":"c","s":"g","x":0.9775,"y":0.0675},{"p":"c","s":"g","x":0.98,"y":0.0610},{"p":"c","s":"g","x":0.9825,"y":0.0550},{"p":"c","s":"g","x":0.985,"y":0.0495},{"p":"c","s":"g","x":0.9875,"y":0.0440},{"p":"c","s":"g","x":0.99,"y":0.0385},{"p":"c","s":"g","x":0.9925,"y":0.0330},{"p":"c","s":"g","x":0.995,"y":0.0275},{"p":"c","s":"g","x":0.9975,"y":0.0225},{"p":"c","s":"g","x":1.0,"y":0.0180},
{"p":"d","s":"r","x":0.80,"y":0.0003},{"p":"d","s":"r","x":0.82,"y":0.0004},{"p":"d","s":"r","x":0.84,"y":0.0005},{"p":"d","s":"r","x":0.86,"y":0.0007},{"p":"d","s":"r","x":0.88,"y":0.0010},{"p":"d","s":"r","x":0.89,"y":0.0012},{"p":"d","s":"r","x":0.90,"y":0.0015},{"p":"d","s":"r","x":0.91,"y":0.0020},{"p":"d","s":"r","x":0.92,"y":0.0027},{"p":"d","s":"r","x":0.93,"y":0.0038},{"p":"d","s":"r","x":0.935,"y":0.0047},{"p":"d","s":"r","x":0.94,"y":0.0060},{"p":"d","s":"r","x":0.945,"y":0.0080},{"p":"d","s":"r","x":0.95,"y":0.0115},{"p":"d","s":"r","x":0.955,"y":0.0175},{"p":"d","s":"r","x":0.96,"y":0.0290},{"p":"d","s":"r","x":0.9625,"y":0.0380},{"p":"d","s":"r","x":0.965,"y":0.0510},{"p":"d","s":"r","x":0.9675,"y":0.0670},{"p":"d","s":"r","x":0.97,"y":0.0860},{"p":"d","s":"r","x":0.9725,"y":0.1060},{"p":"d","s":"r","x":0.975,"y":0.1250},{"p":"d","s":"r","x":0.9775,"y":0.1410},{"p":"d","s":"r","x":0.98,"y":0.1500},{"p":"d","s":"r","x":0.9815,"y":0.1515},{"p":"d","s":"r","x":0.983,"y":0.1495},{"p":"d","s":"r","x":0.985,"y":0.1420},{"p":"d","s":"r","x":0.9875,"y":0.1260},{"p":"d","s":"r","x":0.99,"y":0.1060},{"p":"d","s":"r","x":0.9925,"y":0.0860},{"p":"d","s":"r","x":0.995,"y":0.0680},{"p":"d","s":"r","x":0.9975,"y":0.0520},{"p":"d","s":"r","x":1.0,"y":0.0390},
{"p":"d","s":"b","x":0.80,"y":0.0012},{"p":"d","s":"b","x":0.82,"y":0.0014},{"p":"d","s":"b","x":0.84,"y":0.0016},{"p":"d","s":"b","x":0.86,"y":0.0019},{"p":"d","s":"b","x":0.88,"y":0.0024},{"p":"d","s":"b","x":0.89,"y":0.0027},{"p":"d","s":"b","x":0.90,"y":0.0032},{"p":"d","s":"b","x":0.91,"y":0.0040},{"p":"d","s":"b","x":0.92,"y":0.0053},{"p":"d","s":"b","x":0.925,"y":0.0064},{"p":"d","s":"b","x":0.93,"y":0.0080},{"p":"d","s":"b","x":0.935,"y":0.0105},{"p":"d","s":"b","x":0.94,"y":0.0148},{"p":"d","s":"b","x":0.945,"y":0.0215},{"p":"d","s":"b","x":0.95,"y":0.0320},{"p":"d","s":"b","x":0.955,"y":0.0480},{"p":"d","s":"b","x":0.96,"y":0.0700},{"p":"d","s":"b","x":0.9625,"y":0.0830},{"p":"d","s":"b","x":0.965,"y":0.0960},{"p":"d","s":"b","x":0.9675,"y":0.1080},{"p":"d","s":"b","x":0.97,"y":0.1170},{"p":"d","s":"b","x":0.9725,"y":0.1210},{"p":"d","s":"b","x":0.975,"y":0.1200},{"p":"d","s":"b","x":0.9775,"y":0.1140},{"p":"d","s":"b","x":0.98,"y":0.1050},{"p":"d","s":"b","x":0.9825,"y":0.0940},{"p":"d","s":"b","x":0.985,"y":0.0830},{"p":"d","s":"b","x":0.9875,"y":0.0720},{"p":"d","s":"b","x":0.99,"y":0.0620},{"p":"d","s":"b","x":0.9925,"y":0.0520},{"p":"d","s":"b","x":0.995,"y":0.0430},{"p":"d","s":"b","x":0.9975,"y":0.0340},{"p":"d","s":"b","x":1.0,"y":0.0265},
{"p":"d","s":"g","x":0.80,"y":0.0012},{"p":"d","s":"g","x":0.82,"y":0.0015},{"p":"d","s":"g","x":0.84,"y":0.0019},{"p":"d","s":"g","x":0.86,"y":0.0024},{"p":"d","s":"g","x":0.88,"y":0.0033},{"p":"d","s":"g","x":0.89,"y":0.0040},{"p":"d","s":"g","x":0.90,"y":0.0050},{"p":"d","s":"g","x":0.905,"y":0.0058},{"p":"d","s":"g","x":0.91,"y":0.0070},{"p":"d","s":"g","x":0.915,"y":0.0088},{"p":"d","s":"g","x":0.92,"y":0.0115},{"p":"d","s":"g","x":0.925,"y":0.0155},{"p":"d","s":"g","x":0.93,"y":0.0215},{"p":"d","s":"g","x":0.935,"y":0.0300},{"p":"d","s":"g","x":0.94,"y":0.0410},{"p":"d","s":"g","x":0.945,"y":0.0545},{"p":"d","s":"g","x":0.95,"y":0.0700},{"p":"d","s":"g","x":0.955,"y":0.0840},{"p":"d","s":"g","x":0.9575,"y":0.0890},{"p":"d","s":"g","x":0.96,"y":0.0920},{"p":"d","s":"g","x":0.9625,"y":0.0925},{"p":"d","s":"g","x":0.965,"y":0.0905},{"p":"d","s":"g","x":0.9675,"y":0.0860},{"p":"d","s":"g","x":0.97,"y":0.0800},{"p":"d","s":"g","x":0.9725,"y":0.0735},{"p":"d","s":"g","x":0.975,"y":0.0670},{"p":"d","s":"g","x":0.9775,"y":0.0610},{"p":"d","s":"g","x":0.98,"y":0.0550},{"p":"d","s":"g","x":0.9825,"y":0.0495},{"p":"d","s":"g","x":0.985,"y":0.0440},{"p":"d","s":"g","x":0.9875,"y":0.0385},{"p":"d","s":"g","x":0.99,"y":0.0335},{"p":"d","s":"g","x":0.9925,"y":0.0285},{"p":"d","s":"g","x":0.995,"y":0.0240},{"p":"d","s":"g","x":0.9975,"y":0.0195},{"p":"d","s":"g","x":1.0,"y":0.0150}
]
},
"spacing":22,
"resolve":{"scale":{"x":"independent","y":"independent","color":"independent","shape":"independent","strokeDash":"independent"}},
"vconcat":[
{"hconcat":[
 {"width":381,"height":277,"title":{"text":"(a)","offset":-21,"dx":-41},
  "resolve":{"scale":{"color":"independent","shape":"independent","strokeDash":"independent"}},
  "layer":[
   {"data":{"name":"pts"},"transform":[{"filter":"datum.p=='a'"}],
    "mark":{"type":"point","filled":false,"size":40,"strokeWidth":1.1},
    "encoding":{
     "x":{"field":"x","type":"quantitative","scale":{"domain":[0.8,1.0],"nice":false,"zero":false},"axis":{"values":[0.8,0.85,0.9,0.95,1.0],"format":".2f","title":"Cosine of incident angle"}},
     "y":{"field":"y","type":"quantitative","scale":{"domain":[0,0.15],"nice":false},"axis":{"values":[0,0.04,0.08,0.12],"labelExpr":"datum.value==0?'0':format(datum.value,'.2f')","title":"Intensity","titleY":152}},
     "color":{"field":"s","type":"nominal","scale":{"domain":["r","b","g"],"range":["#ee5a5a","#5566c8","#5aab5a"]},"legend":{"title":null,"orient":"top-left","offset":14,"symbolOffset":24,"labelOffset":11,"symbolSize":40,"symbolStrokeWidth":1.1,"labelExpr":"datum.label=='r'?'0.06 Pa, data':datum.label=='b'?'0.08 Pa, data':'0.12 Pa, data'"}},
     "shape":{"field":"s","type":"nominal","scale":{"domain":["r","b","g"],"range":["square","circle","triangle-up"]},"legend":{"title":null,"orient":"top-left","offset":14,"symbolOffset":24,"labelOffset":11,"symbolSize":40,"symbolStrokeWidth":1.1,"labelExpr":"datum.label=='r'?'0.06 Pa, data':datum.label=='b'?'0.08 Pa, data':'0.12 Pa, data'"}}
    }},
   {"data":{"name":"fit"},"transform":[{"filter":"datum.p=='a'"}],
    "mark":{"type":"line","interpolate":"monotone","strokeWidth":1.6},
    "encoding":{
     "x":{"field":"x","type":"quantitative"},
     "y":{"field":"y","type":"quantitative"},
     "color":{"field":"s","type":"nominal","scale":{"domain":["r","b","g"],"range":["#e8343e","#3347b8","#3f9f3f"]},"legend":{"title":null,"orient":"top-left","offset":14,"symbolOffset":15,"labelOffset":0,"symbolSize":900,"clipHeight":14.5,"symbolStrokeWidth":1.6,"labelExpr":"datum.label=='r'?'0.06 Pa, fitted curve':datum.label=='b'?'0.08 Pa, fitted curve':'0.12 Pa, fitted curve'"}},
     "strokeDash":{"field":"s","type":"nominal","scale":{"domain":["r","b","g"],"range":[[1,0],[5,3],[7,3,2,3]]},"legend":{"title":null,"orient":"top-left","offset":14,"symbolOffset":15,"labelOffset":0,"symbolSize":900,"clipHeight":14.5,"symbolStrokeWidth":1.6,"labelExpr":"datum.label=='r'?'0.06 Pa, fitted curve':datum.label=='b'?'0.08 Pa, fitted curve':'0.12 Pa, fitted curve'"}}
    }}
  ]},
 {"width":380,"height":277,"title":{"text":"(b)","offset":-22,"dx":-40},
  "resolve":{"scale":{"color":"independent","shape":"independent","strokeDash":"independent"}},
  "layer":[
   {"data":{"name":"pts"},"transform":[{"filter":"datum.p=='b'"}],
    "mark":{"type":"point","filled":false,"size":40,"strokeWidth":1.1},
    "encoding":{
     "x":{"field":"x","type":"quantitative","scale":{"domain":[0.8,1.0],"nice":false,"zero":false},"axis":{"values":[0.8,0.85,0.9,0.95,1.0],"format":".2f","title":"Cosine of incident angle"}},
     "y":{"field":"y","type":"quantitative","scale":{"domain":[0,0.14],"nice":false},"axis":{"values":[0,0.04,0.08,0.12],"labelExpr":"datum.value==0?'0':format(datum.value,'.2f')","title":"Intensity","titleY":146}},
     "color":{"field":"s","type":"nominal","scale":{"domain":["r","b","g"],"range":["#ee5a5a","#5566c8","#5aab5a"]},"legend":{"title":null,"orient":"top-left","offset":12,"symbolOffset":26,"labelOffset":11,"symbolSize":40,"symbolStrokeWidth":1.1,"labelExpr":"datum.label=='r'?'0.06 Pa, data':datum.label=='b'?'0.08 Pa, data':'0.12 Pa, data'"}},
     "shape":{"field":"s","type":"nominal","scale":{"domain":["r","b","g"],"range":["square","circle","triangle-up"]},"legend":{"title":null,"orient":"top-left","offset":12,"symbolOffset":26,"labelOffset":11,"symbolSize":40,"symbolStrokeWidth":1.1,"labelExpr":"datum.label=='r'?'0.06 Pa, data':datum.label=='b'?'0.08 Pa, data':'0.12 Pa, data'"}}
    }},
   {"data":{"name":"fit"},"transform":[{"filter":"datum.p=='b'"}],
    "mark":{"type":"line","interpolate":"monotone","strokeWidth":1.6},
    "encoding":{
     "x":{"field":"x","type":"quantitative"},
     "y":{"field":"y","type":"quantitative"},
     "color":{"field":"s","type":"nominal","scale":{"domain":["r","b","g"],"range":["#e8343e","#3347b8","#3f9f3f"]},"legend":{"title":null,"orient":"top-left","offset":12,"symbolOffset":16,"labelOffset":0,"symbolSize":900,"clipHeight":14.5,"symbolStrokeWidth":1.6,"labelExpr":"datum.label=='r'?'0.06 Pa, fitted curve':datum.label=='b'?'0.08 Pa, fitted curve':'0.12 Pa, fitted curve'"}},
     "strokeDash":{"field":"s","type":"nominal","scale":{"domain":["r","b","g"],"range":[[1,0],[5,3],[7,3,2,3]]},"legend":{"title":null,"orient":"top-left","offset":12,"symbolOffset":16,"labelOffset":0,"symbolSize":900,"clipHeight":14.5,"symbolStrokeWidth":1.6,"labelExpr":"datum.label=='r'?'0.06 Pa, fitted curve':datum.label=='b'?'0.08 Pa, fitted curve':'0.12 Pa, fitted curve'"}}
    }}
  ]}
],"spacing":129,"bounds":"flush","resolve":{"scale":{"x":"independent","y":"independent","color":"independent","shape":"independent","strokeDash":"independent"}}},
{"hconcat":[
 {"width":380,"height":278,"title":{"text":"(c)","offset":-19,"dx":-37},
  "resolve":{"scale":{"color":"independent","shape":"independent","strokeDash":"independent"}},
  "layer":[
   {"data":{"name":"pts"},"transform":[{"filter":"datum.p=='c'"}],
    "mark":{"type":"point","filled":false,"size":40,"strokeWidth":1.1},
    "encoding":{
     "x":{"field":"x","type":"quantitative","scale":{"domain":[0.8,1.0],"nice":false,"zero":false},"axis":{"values":[0.8,0.85,0.9,0.95,1.0],"format":".2f","title":["Cosine of incident angle","Mo"]}},
     "y":{"field":"y","type":"quantitative","scale":{"domain":[0,0.188],"nice":false},"axis":{"values":[0,0.04,0.08,0.12,0.16],"labelExpr":"datum.value==0?'0':format(datum.value,'.2f')","title":"Intensity"}},
     "color":{"field":"s","type":"nominal","scale":{"domain":["r","b","g"],"range":["#ee5a5a","#5566c8","#5aab5a"]},"legend":{"title":null,"orient":"top-left","offset":10,"symbolOffset":28,"labelOffset":10,"symbolSize":40,"symbolStrokeWidth":1.1,"labelExpr":"datum.label=='r'?'14 cm, data':datum.label=='b'?'12 cm, data':'10 cm, data'"}},
     "shape":{"field":"s","type":"nominal","scale":{"domain":["r","b","g"],"range":["square","circle","triangle-up"]},"legend":{"title":null,"orient":"top-left","offset":10,"symbolOffset":28,"labelOffset":10,"symbolSize":40,"symbolStrokeWidth":1.1,"labelExpr":"datum.label=='r'?'14 cm, data':datum.label=='b'?'12 cm, data':'10 cm, data'"}}
    }},
   {"data":{"name":"fit"},"transform":[{"filter":"datum.p=='c'"}],
    "mark":{"type":"line","interpolate":"monotone","strokeWidth":1.6},
    "encoding":{
     "x":{"field":"x","type":"quantitative"},
     "y":{"field":"y","type":"quantitative"},
     "color":{"field":"s","type":"nominal","scale":{"domain":["r","b","g"],"range":["#e8343e","#3347b8","#3f9f3f"]},"legend":{"title":null,"orient":"top-left","offset":10,"symbolOffset":19,"labelOffset":0,"symbolSize":900,"clipHeight":14.5,"symbolStrokeWidth":1.6,"labelExpr":"datum.label=='r'?'14 cm, fitted curve':datum.label=='b'?'12 cm, fitted curve':'10 cm, fitted curve'"}},
     "strokeDash":{"field":"s","type":"nominal","scale":{"domain":["r","b","g"],"range":[[1,0],[5,3],[7,3,2,3]]},"legend":{"title":null,"orient":"top-left","offset":10,"symbolOffset":19,"labelOffset":0,"symbolSize":900,"clipHeight":14.5,"symbolStrokeWidth":1.6,"labelExpr":"datum.label=='r'?'14 cm, fitted curve':datum.label=='b'?'12 cm, fitted curve':'10 cm, fitted curve'"}}
    }}
  ]},
 {"width":379,"height":278,"title":{"text":"(d)","offset":-20,"dx":-81},
  "resolve":{"scale":{"color":"independent","shape":"independent","strokeDash":"independent"}},
  "layer":[
   {"data":{"name":"pts"},"transform":[{"filter":"datum.p=='d'"}],
    "mark":{"type":"point","filled":false,"size":40,"strokeWidth":1.1},
    "encoding":{
     "x":{"field":"x","type":"quantitative","scale":{"domain":[0.8,1.0],"nice":false,"zero":false},"axis":{"values":[0.8,0.85,0.9,0.95,1.0],"format":".2f","title":["Cosine of incident angle","Si"]}},
     "y":{"field":"y","type":"quantitative","scale":{"domain":[0,0.17],"nice":false},"axis":{"values":[0,0.04,0.08,0.12,0.16],"labelExpr":"datum.value==0?'0':format(datum.value,'.2f')","title":"Intensity"}},
     "color":{"field":"s","type":"nominal","scale":{"domain":["r","b","g"],"range":["#ee5a5a","#5566c8","#5aab5a"]},"legend":{"title":null,"orient":"top-left","offset":10,"symbolOffset":22,"labelOffset":9,"symbolSize":40,"symbolStrokeWidth":1.1,"labelExpr":"datum.label=='r'?'14 cm, data':datum.label=='b'?'12 cm, data':'10 cm, data'"}},
     "shape":{"field":"s","type":"nominal","scale":{"domain":["r","b","g"],"range":["square","circle","triangle-up"]},"legend":{"title":null,"orient":"top-left","offset":10,"symbolOffset":22,"labelOffset":9,"symbolSize":40,"symbolStrokeWidth":1.1,"labelExpr":"datum.label=='r'?'14 cm, data':datum.label=='b'?'12 cm, data':'10 cm, data'"}}
    }},
   {"data":{"name":"fit"},"transform":[{"filter":"datum.p=='d'"}],
    "mark":{"type":"line","interpolate":"monotone","strokeWidth":1.6},
    "encoding":{
     "x":{"field":"x","type":"quantitative"},
     "y":{"field":"y","type":"quantitative"},
     "color":{"field":"s","type":"nominal","scale":{"domain":["r","b","g"],"range":["#e8343e","#3347b8","#3f9f3f"]},"legend":{"title":null,"orient":"top-left","offset":10,"symbolOffset":13,"labelOffset":0,"symbolSize":900,"clipHeight":14.5,"symbolStrokeWidth":1.6,"labelExpr":"datum.label=='r'?'14 cm, fitted curve':datum.label=='b'?'12 cm, fitted curve':'10 cm, fitted curve'"}},
     "strokeDash":{"field":"s","type":"nominal","scale":{"domain":["r","b","g"],"range":[[1,0],[5,3],[7,3,2,3]]},"legend":{"title":null,"orient":"top-left","offset":10,"symbolOffset":13,"labelOffset":0,"symbolSize":900,"clipHeight":14.5,"symbolStrokeWidth":1.6,"labelExpr":"datum.label=='r'?'14 cm, fitted curve':datum.label=='b'?'12 cm, fitted curve':'10 cm, fitted curve'"}}
    }}
  ]}
],"spacing":135,"bounds":"flush","resolve":{"scale":{"x":"independent","y":"independent","color":"independent","shape":"independent","strokeDash":"independent"}}}
]
}
